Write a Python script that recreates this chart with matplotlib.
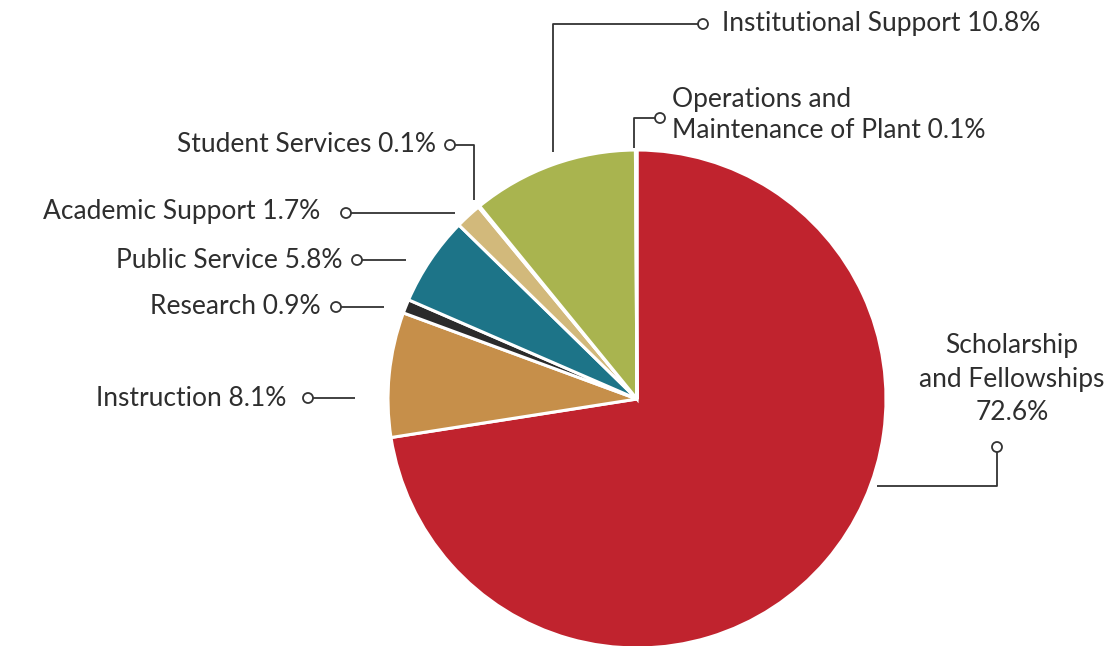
import matplotlib.pyplot as plt
from matplotlib.patches import Circle

# data
categories = ['Scholarship\nand Fellowships\n72.6%', 'Instruction 8.1%', 'Research 0.9%',
              'Public Service 5.8%', 'Academic Support 1.7%', 'Student Services 0.1%',
              'Institutional Support 10.8%', 'Operations and\nMaintenance of Plant 0.1%']
values = [72.6, 8.1, 0.9, 5.8, 1.7, 0.1, 10.8, 0.1]
colors = ['#C0232E', '#C68F4A', '#2B2B2B', '#1D7488', '#D2B97B', '#E4E1EE', '#A9B44F', '#A6A3D6']

W, H = 1106, 646
plt.rcParams['font.family'] = ['Lato', 'DejaVu Sans']
fig = plt.figure(figsize=(W / 100, H / 100), dpi=100)
ax = fig.add_axes([0, 0, 1, 1])

cx, cy, r = 637, H - 399, 249
ax.pie(values, colors=colors, startangle=90, counterclock=False, center=(cx, cy), radius=r,
       wedgeprops=dict(edgecolor='white', linewidth=2.2), frame=True)
ax.set_xlim(0, W)
ax.set_ylim(0, H)
ax.set_aspect('equal')
ax.axis('off')

lc = '#333333'
tc = '#2e2e2e'
fs = 19


def y(p):
    return H - p


def leader(pts, circ):
    xs = [p[0] for p in pts]
    ys = [y(p[1]) for p in pts]
    ax.plot(xs, ys, color=lc, lw=1.3, solid_capstyle='butt', zorder=3)
    ax.add_patch(Circle((circ[0], y(circ[1])), 5, facecolor='white', edgecolor=lc, lw=1.3, zorder=4))


# Institutional Support
leader([(708, 24), (553, 24), (553, 152)], (703, 24))
ax.text(722, y(24), categories[6], fontsize=fs, color=tc, ha='left', va='center')
# Operations and Maintenance
leader([(655, 118), (634, 118), (634, 148)], (660, 118))
ax.text(672, y(115), categories[7], fontsize=fs, color=tc, ha='left', va='center', linespacing=1.35)
# Student Services
leader([(455, 145), (474, 145), (474, 200)], (450, 145))
ax.text(436, y(144), categories[5], fontsize=fs, color=tc, ha='right', va='center')
# Academic Support
leader([(351, 213), (455, 213)], (346, 213))
ax.text(320, y(212), categories[4], fontsize=fs, color=tc, ha='right', va='center')
# Public Service
leader([(362, 260), (406, 260)], (357, 260))
ax.text(343, y(260), categories[3], fontsize=fs, color=tc, ha='right', va='center')
# Research
leader([(341, 307), (384, 307)], (336, 307))
ax.text(321, y(306), categories[2], fontsize=fs, color=tc, ha='right', va='center')
# Instruction
leader([(313, 398), (355, 398)], (308, 398))
ax.text(286, y(398), categories[1], fontsize=fs, color=tc, ha='right', va='center')
# Scholarship
leader([(997, 452), (997, 486), (877, 486)], (997, 447))
ax.text(1012, y(379), categories[0], fontsize=fs, color=tc, ha='center', va='center', linespacing=1.4)

fig.savefig('out.png', dpi=100)
